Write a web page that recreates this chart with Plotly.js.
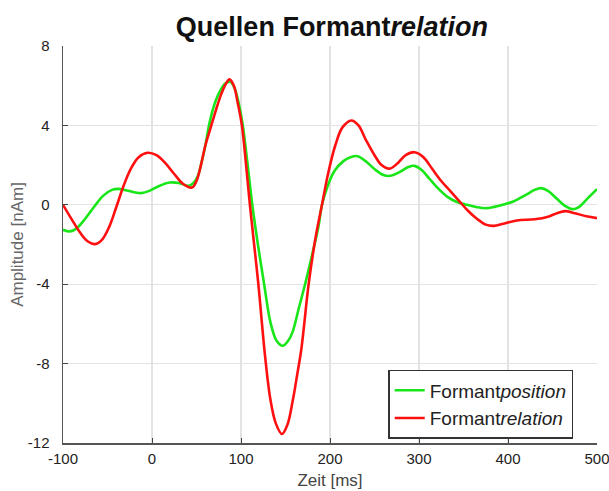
<!DOCTYPE html>
<html>
<head>
<meta charset="utf-8">
<script src="https://cdn.plot.ly/plotly-3.0.1.min.js"></script>
<style>html,body{margin:0;padding:0;background:#fff;}#chart{width:609px;height:491px;}</style>
</head>
<body>
<div id="chart"></div>
<script>
const redX = [-100,-90,-80,-72,-64,-56,-48,-40,-32,-24,-15,-5,5,15,25,35,45,50,55,60,66,72,78,83,87,92,96,101,105.5,110,115,119.5,127,133,139,146,152,158,163,168,176,184,191,198,206,214,224,232,240,250,258,267,275,285,295,305,315,325,335,345,355,365,375,384,395,410,430,445,455,464,475,488,500];
const redY = [0,-0.75,-1.45,-1.85,-1.98,-1.75,-1.1,-0.1,0.95,1.8,2.4,2.62,2.5,2.1,1.55,1.05,0.87,1.2,2.0,3.0,3.9,4.8,5.6,6.1,6.32,6.0,5.2,4.0,2.1,0,-2.1,-4.0,-7.6,-9.8,-11.0,-11.55,-11.1,-9.9,-8.6,-7.2,-4.0,-1.6,0,1.6,3.0,3.9,4.25,4.0,3.3,2.5,2.0,1.82,2.05,2.5,2.65,2.4,1.8,1.2,0.7,0.2,-0.3,-0.7,-1.0,-1.06,-0.95,-0.79,-0.73,-0.6,-0.42,-0.32,-0.42,-0.58,-0.67];
const greenX = [-100,-92,-85,-75,-65,-55,-45,-38,-30,-20,-12,-3,8,20,30,41,46,51,56,60,64,69,75,82,88,93,98,102,107,112.7,119,126,133,140,147,153,158,165,172,180,187,191,197,205,215,223,231,240,250,260,268,278,288,295,303,312,322,332,342,352,365,376,390,406,420,430,437,445,455,464,472,480,490,500];
const greenY = [-1.26,-1.34,-1.2,-0.7,-0.1,0.45,0.75,0.8,0.74,0.63,0.59,0.7,0.95,1.12,1.1,0.96,1.08,1.4,2.2,3.0,4.0,4.9,5.6,6.1,6.2,5.85,5.0,4.0,2.2,0,-2.0,-4.0,-5.9,-6.85,-7.1,-6.85,-6.4,-5.2,-4.0,-2.5,-1.1,0,0.9,1.7,2.2,2.4,2.45,2.2,1.8,1.5,1.46,1.65,1.9,1.96,1.75,1.3,0.8,0.4,0.15,0.02,-0.12,-0.17,-0.05,0.17,0.5,0.75,0.84,0.7,0.3,-0.05,-0.22,-0.1,0.35,0.79];
const xTicks = [-100,0,100,200,300,400,500];
const yTicks = [-12,-8,-4,0,4,8];
const seriesNames = ['Formant<i>position</i>','Formant<i>relation</i>'];

const traces = [
  {x: greenX, y: greenY, name: seriesNames[0], mode: 'lines', line: {color: '#19e619', width: 2.6, shape: 'spline', smoothing: 1}},
  {x: redX, y: redY, name: seriesNames[1], mode: 'lines', line: {color: '#ff1010', width: 2.6, shape: 'spline', smoothing: 1}}
];
const layout = {
  width: 609, height: 491,
  margin: {l: 63, r: 12, t: 46, b: 48},
  paper_bgcolor: '#fff', plot_bgcolor: '#fff',
  font: {family: 'Liberation Sans, Arial, sans-serif', color: '#222', size: 15},
  title: {text: '<b>Quellen Formant<i>relation</i></b>', x: 0.545, xanchor: 'center', y: 0.945, yanchor: 'middle', font: {size: 27, color: '#111'}},
  xaxis: {range: [-100, 500], tickvals: xTicks, ticktext: xTicks.map(String), ticks: 'inside', ticklen: 5, tickcolor: '#444',
    showline: true, linecolor: '#555', linewidth: 1.5, showgrid: true, gridcolor: '#e3e3e3', gridwidth: 1.3, zeroline: false,
    ticklabelstandoff: 1, ticklabeloverflow: 'allow',
    title: {text: 'Zeit [ms]', font: {size: 17, color: '#444'}, standoff: 8}, tickfont: {size: 15, color: '#222'}},
  yaxis: {range: [-12, 8], tickvals: yTicks, ticktext: yTicks.map(String), ticks: 'inside', ticklen: 5, tickcolor: '#444',
    showline: true, linecolor: '#555', linewidth: 1.5, showgrid: true, gridcolor: '#e3e3e3', gridwidth: 1.3, zeroline: false,
    ticklabelstandoff: 9, ticklabeloverflow: 'allow',
    title: {text: 'Amplitude [nAm]', font: {size: 17, color: '#666'}, standoff: 0}, tickfont: {size: 15, color: '#222'}},
  legend: {x: 0.609, y: 0.184, xanchor: 'left', yanchor: 'top', bgcolor: '#fff', bordercolor: '#333', borderwidth: 1.5,
    font: {size: 19, color: '#222'}, tracegroupgap: 0, itemwidth: 30},
  showlegend: true
};
Plotly.newPlot('chart', traces, layout, {displayModeBar: false, staticPlot: true});
</script>
</body>
</html>
